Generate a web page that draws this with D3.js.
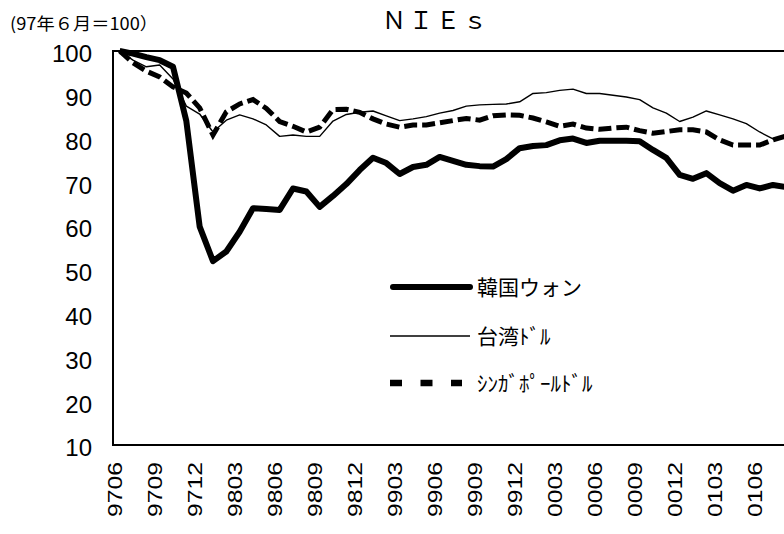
<!DOCTYPE html>
<html>
<head>
<meta charset="utf-8">
<script src="https://cdn.jsdelivr.net/npm/d3@7"></script>
<style>
  body { margin: 0; background: #fff; }
  svg { display: block; }
</style>
</head>
<body>
<div class="chart"></div>
<script>
// month codes (yymm)
const months = [
  "9706","9707","9708","9709","9710","9711","9712",
  "9801","9802","9803","9804","9805","9806","9807","9808","9809","9810","9811","9812",
  "9901","9902","9903","9904","9905","9906","9907","9908","9909","9910","9911","9912",
  "0001","0002","0003","0004","0005","0006","0007","0008","0009","0010","0011","0012",
  "0101","0102","0103","0104","0105","0106","0107","0108"
];
const tickMonths = months.filter((m, i) => i % 3 === 0);

const korea = [100, 99.4, 98.6, 97.9, 96.4, 84, 59.9, 52, 54.2, 58.7, 64.1, 63.9, 63.7, 68.6, 67.9, 64.4,
  66.9, 69.6, 72.8, 75.6, 74.4, 71.9, 73.5, 74.0, 75.8, 74.9, 74.0, 73.7, 73.6, 75.3, 77.8, 78.3, 78.5,
  79.6, 80.0, 79.0, 79.5, 79.5, 79.5, 79.4, 77.4, 75.6, 71.7, 70.8, 72.1, 69.8, 68.1, 69.4, 68.6, 69.4, 68.9];
const taiwan = [100, 97.9, 96.4, 96.8, 93.6, 87.4, 85.6, 81.5, 84.2, 85.4, 84.5, 83.1, 80.5, 80.8, 80.5, 80.5,
  84.0, 85.5, 86.0, 86.3, 85.2, 84.1, 84.5, 85.0, 85.8, 86.4, 87.4, 87.7, 87.8, 87.9, 88.4, 90.3, 90.5,
  91.0, 91.3, 90.3, 90.3, 89.9, 89.5, 88.9, 87.0, 85.8, 83.9, 84.9, 86.3, 85.4, 84.5, 83.4, 81.5, 79.9, 80.6];
const singapore = [100, 97.3, 95.4, 94.1, 91.8, 90.4, 87.0, 80.8, 86.1, 87.9, 88.9, 86.9, 83.9, 82.8, 81.5, 82.6,
  86.6, 86.7, 86.0, 84.5, 83.3, 82.6, 83.1, 83.1, 83.6, 84.1, 84.6, 84.2, 85.2, 85.4, 85.3, 84.7, 83.8,
  82.8, 83.3, 82.4, 82.1, 82.4, 82.6, 81.8, 81.2, 81.6, 82.0, 82.0, 81.5, 79.7, 78.5, 78.5, 78.5, 79.7, 80.6];

const seriesNames = ["韓国ウォン", "台湾ﾄﾞﾙ", "ｼﾝｶﾞﾎﾟｰﾙﾄﾞﾙ"];
const yTicks = [10, 20, 30, 40, 50, 60, 70, 80, 90, 100];

const width = 784;
const height = 534;
const plotLeft = 113, plotTop = 51, plotBottom = 445;
const step = 13.333;

const svg = d3.select(".chart").append("svg")
    .attr("width", width)
    .attr("height", height);

const x = d3.scaleBand()
    .domain(months)
    .range([plotLeft, plotLeft + step * months.length]);

const y = d3.scaleLinear()
    .domain([10, 100])
    .range([plotBottom, plotTop]);

const cx = m => x(m) + x.bandwidth() / 2;

// title and unit note
svg.append("text")
    .attr("x", 436).attr("y", 29)
    .attr("text-anchor", "middle")
    .attr("font-family", "Noto Sans CJK JP")
    .attr("font-size", 24)
    .attr("letter-spacing", 3)
    .text("ＮＩＥｓ");

svg.append("text")
    .attr("x", 10).attr("y", 30)
    .attr("font-family", "Noto Sans CJK JP")
    .attr("font-size", 17)
    .attr("textLength", 148)
    .attr("lengthAdjust", "spacingAndGlyphs")
    .text("(97年６月＝100）");

// y axis labels
const yAxis = svg.append("g")
    .attr("transform", `translate(${plotLeft},0)`)
    .call(d3.axisLeft(y).tickValues(yTicks).tickSize(0).tickPadding(21));
yAxis.select(".domain").remove();
yAxis.selectAll("text")
    .attr("font-family", "Liberation Sans, Arial, sans-serif")
    .attr("font-size", 24)
    .attr("dy", "0.45em")
    .attr("fill", "#000");

// x axis labels
const xAxis = svg.append("g")
    .attr("transform", `translate(0,${plotBottom})`)
    .call(d3.axisBottom(x).tickValues(tickMonths).tickSize(0));
xAxis.select(".domain").remove();
xAxis.selectAll("text")
    .attr("font-family", "Liberation Sans, Arial, sans-serif")
    .attr("font-size", 21)
    .attr("fill", "#000")
    .attr("text-anchor", "end")
    .attr("transform", "translate(0,17) rotate(-90)")
    .attr("x", 0)
    .attr("y", 0)
    .attr("dy", "0.3em")
    .attr("dx", 0)
    .attr("textLength", 55)
    .attr("lengthAdjust", "spacingAndGlyphs");
xAxis.selectAll(".tick").attr("transform", d => `translate(${cx(d) - 4},0)`);

// frame
svg.append("path")
    .attr("d", `M${width + 20},${plotTop}H${plotLeft}V${plotBottom}H${width + 20}`)
    .attr("fill", "none")
    .attr("stroke", "#000")
    .attr("stroke-width", 2);

const line = d3.line()
    .x((d, i) => cx(months[i]))
    .y(d => y(d));

svg.append("path").datum(korea)
    .attr("d", line)
    .attr("fill", "none")
    .attr("stroke", "#000")
    .attr("stroke-width", 6)
    .attr("stroke-linejoin", "round");

svg.append("path").datum(taiwan)
    .attr("d", line)
    .attr("fill", "none")
    .attr("stroke", "#000")
    .attr("stroke-width", 1.4)
    .attr("stroke-linejoin", "round");

svg.append("path").datum(singapore)
    .attr("d", line)
    .attr("fill", "none")
    .attr("stroke", "#000")
    .attr("stroke-width", 5)
    .attr("stroke-dasharray", "13,5");

// legend
const legendY = [287, 336, 383];
const legendStyles = [
    { w: 6, dash: null, cap: "round" },
    { w: 1.4, dash: null, cap: "butt" },
    { w: 6.5, dash: "12,18.5", cap: "butt" }
];
const legend = svg.append("g");
seriesNames.forEach((name, i) => {
    legend.append("line")
        .attr("x1", i === 0 ? 393 : 390).attr("x2", i === 2 ? 462 : 470)
        .attr("y1", legendY[i]).attr("y2", legendY[i])
        .attr("stroke", "#000")
        .attr("stroke-width", legendStyles[i].w)
        .attr("stroke-linecap", legendStyles[i].cap)
        .attr("stroke-dasharray", legendStyles[i].dash);
    legend.append("text")
        .attr("x", 477).attr("y", legendY[i] + 8)
        .attr("font-family", "Noto Sans CJK JP")
        .attr("font-size", 21)
        .text(name);
});
</script>
</body>
</html>
